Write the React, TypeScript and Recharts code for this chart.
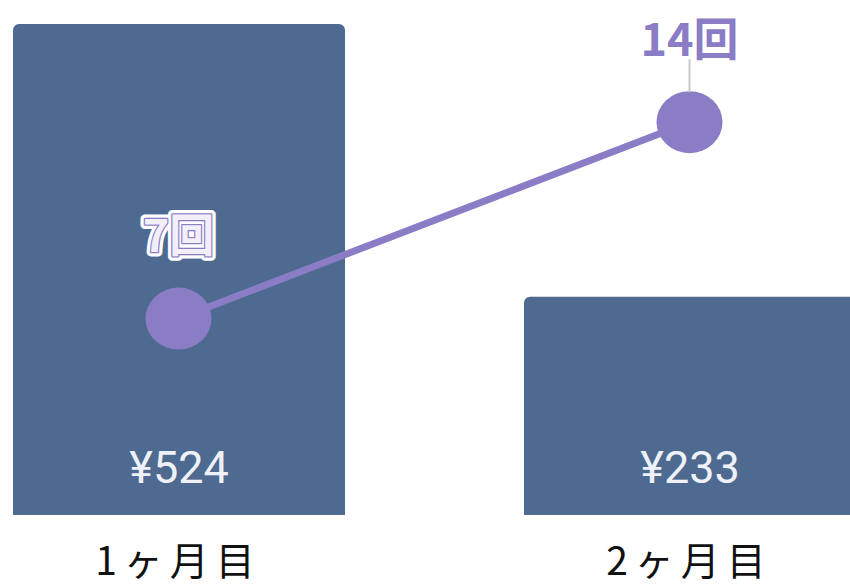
import React from 'react';
import { ComposedChart, Bar, Line, XAxis, YAxis, LabelList } from 'recharts';

const months = ['1ヶ月目', '2ヶ月目'];
const amounts = [524, 233];
const counts = [7, 14];

const data = months.map((m, i) => ({ month: m, amount: amounts[i], count: counts[i] }));

const BAR = '#4e6a90';
const PURPLE = '#8b7cc6';
const JP = '"Noto Sans CJK JP", "Noto Sans", sans-serif';

const MonthTick = (props: any) => {
  const { x, y, payload } = props;
  return (
    <text x={x} y={y + 52} textAnchor="middle" fontSize={39} fill="#111" fontFamily={JP} letterSpacing={7}>
      {payload.value}
    </text>
  );
};

const AmountLabel = (props: any) => {
  const { x, y, width, height, value } = props;
  return (
    <text x={x + width / 2} y={y + height - 48} textAnchor="middle" dominantBaseline="central"
      fontSize={45} fill="#eef2f8" fontFamily='Roboto, "Noto Sans CJK JP", sans-serif'>
      ¥{value}
    </text>
  );
};

const CountLabel = (props: any) => {
  const { x, y, value, index } = props;
  const ty = y - 86;
  if (index === 0) {
    return (
      <g>
        <text x={x} y={ty} textAnchor="middle" dominantBaseline="central" fontSize={45} fontWeight={700}
          fontFamily={JP} fill="#fff" stroke="#fff" strokeWidth={9} strokeLinejoin="round">{value}回</text>
        <text x={x} y={ty} textAnchor="middle" dominantBaseline="central" fontSize={45} fontWeight={700}
          fontFamily={JP} fill="#f2effa" stroke={PURPLE} strokeWidth={2.5} strokeLinejoin="round"
          paintOrder="stroke">{value}回</text>
      </g>
    );
  }
  return (
    <g>
      <line x1={x} x2={x} y1={y - 64} y2={y - 30} stroke="#c9c9cf" strokeWidth={2} />
      <text x={x} y={ty} textAnchor="middle" dominantBaseline="central" fontSize={45} fontWeight={700}
        fontFamily={JP} fill={PURPLE} stroke="#fff" strokeWidth={7} strokeLinejoin="round"
        paintOrder="stroke">{value}回</text>
    </g>
  );
};

const BigDot = (props: any) => {
  const { cx, cy } = props;
  return <ellipse cx={cx} cy={cy} rx={33} ry={31} fill={PURPLE} />;
};

export default function App() {
  return (
    <div style={{ position: 'fixed', left: 0, top: 0, width: 850, height: 588, overflow: 'hidden', background: '#fff' }}>
      <div style={{ position: 'absolute', left: -77, top: 0 }}>
        <ComposedChart width={1022} height={588} data={data} margin={{ top: 24, right: 0, bottom: 0, left: 0 }}
          barCategoryGap={0}>
          <XAxis dataKey="month" axisLine={false} tickLine={false} height={73} tick={<MonthTick />} interval={0} />
          <YAxis yAxisId="amt" hide domain={[0, 524]} />
          <YAxis yAxisId="cnt" hide orientation="right" domain={[0, 17.5]} />
          <Bar yAxisId="amt" dataKey="amount" fill={BAR} barSize={332} radius={[6, 6, 0, 0]} isAnimationActive={false}>
            <LabelList dataKey="amount" content={<AmountLabel />} />
          </Bar>
          <Line yAxisId="cnt" dataKey="count" stroke={PURPLE} strokeWidth={7} dot={<BigDot />} activeDot={false}
            isAnimationActive={false} type="linear">
            <LabelList dataKey="count" content={<CountLabel />} />
          </Line>
        </ComposedChart>
      </div>
    </div>
  );
}
